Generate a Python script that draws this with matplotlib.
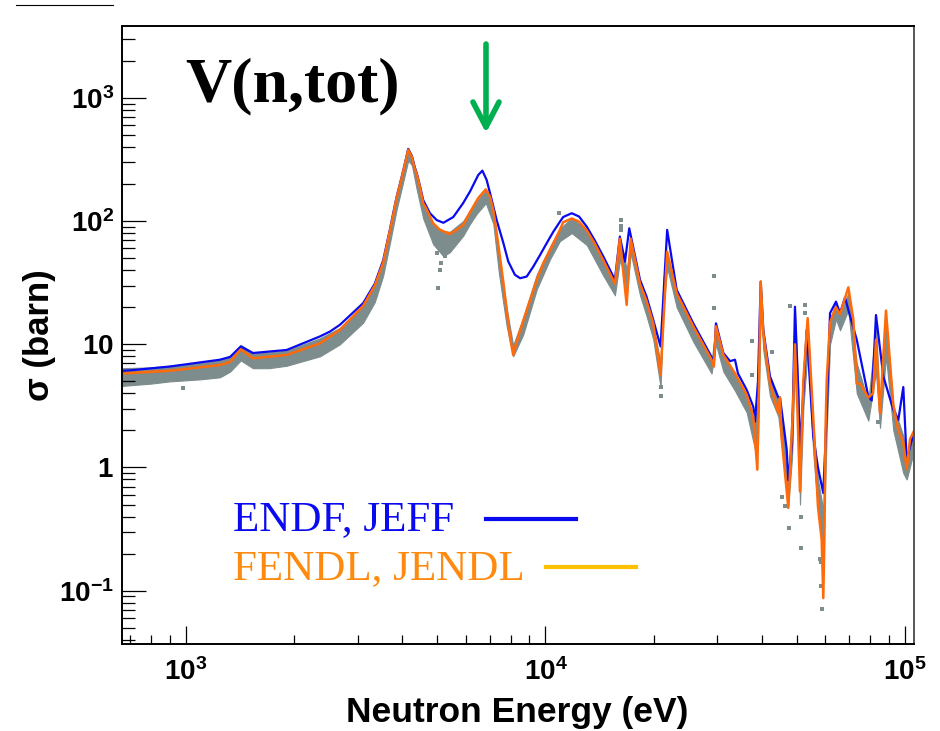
import matplotlib
matplotlib.use('Agg')
import matplotlib.pyplot as plt
from matplotlib.lines import Line2D
from matplotlib.ticker import FixedLocator, FixedFormatter, LogLocator, NullFormatter
import numpy as np

plt.rcParams['font.family'] = ['Liberation Sans', 'DejaVu Sans']
plt.rcParams['mathtext.fontset'] = 'custom'
plt.rcParams['mathtext.rm'] = 'Liberation Sans:bold'
plt.rcParams['mathtext.it'] = 'Liberation Sans:bold'
plt.rcParams['mathtext.bf'] = 'Liberation Sans:bold'
plt.rcParams['mathtext.default'] = 'rm'

# ENDF / JEFF evaluation (blue)
endf_E = [665, 700, 900, 1243, 1326, 1420, 1535, 1906, 2360, 2515, 2680, 3110, 3350, 3535,
          3690, 3770, 3855, 3990, 4070, 4150, 4250, 4320, 4385, 4480, 4570, 4770, 4982, 5200,
          5540, 5900, 6166, 6500, 6675, 6860, 7010, 7315, 7640, 7880, 8220, 8500, 8866, 9250,
          9654, 10070, 10513, 10970, 11200, 11830, 12400, 13030, 13700, 14490, 15600, 16100,
          16640, 17100, 18320, 19100, 19940, 20900, 21800, 23170, 25770, 28970, 29400, 29800,
          31250, 32600, 33660, 34310, 36280, 37840, 38270, 39000, 39690, 40350, 42120, 44420,
          44900, 45870, 46880, 47370, 48500, 49430, 50490, 51040, 52130, 53280, 55580, 57280,
          59260, 60570, 61870, 64280, 65960, 68110, 70310, 73430, 79060, 80800, 83050, 87030,
          92800, 95820, 98930, 101100, 106150]
endf_xs = [6.1, 6.15, 6.6, 7.5, 7.9, 9.6, 8.5, 9.0, 11.6, 12.7, 14.4, 21.6, 31, 48,
           85, 116, 158, 235, 300, 386, 335, 277, 245, 191, 148, 116, 102, 97,
           108, 140, 174, 237, 257, 216, 169, 102, 66, 47, 36.7, 34.4, 35.5, 42.8,
           53, 66, 82, 99, 108, 116, 109, 90, 70, 51.5, 33.4, 75,
           47, 87.5, 33.4, 24.4, 15.8, 9.6, 85, 27.7, 14.8, 7.9, 7.0, 14.8,
           8.5, 7.3, 7.5, 5.8, 4.27, 3.12, 2.36, 5, 32.3, 13.1, 5.5, 3.7,
           3.7, 2.3, 1.4, 0.79, 1.5, 20.2, 4.3, 1.4, 4.0, 13.1, 1.78, 1.0,
           0.62, 2.76, 17.9, 22.2, 17.9, 24, 17, 10.9, 3.77, 3.5, 17.3, 5.5,
           2.94, 2.43, 4.5, 1.15, 2.0]

# FENDL / JENDL evaluation (orange)
fendl_E = [665, 900, 1243, 1326, 1420, 1535, 1906, 2360, 2680, 3110, 3350, 3535, 3690, 3770,
           3855, 3990, 4070, 4150, 4250, 4320, 4385, 4480, 4570, 4670, 4870, 5090, 5420, 5660,
           5900, 6166, 6500, 6820, 7010, 7160, 7315, 7470, 7640, 7800, 7960, 8130, 8400, 8670,
           9060, 9460, 9860, 10290, 10970, 11200, 11830, 12400, 13030, 13700, 14490, 15600,
           16100, 16820, 17260, 18320, 19100, 19940, 20900, 21800, 23170, 25770, 28970, 29400,
           29800, 31250, 33660, 36280, 37840, 38840, 39300, 39690, 40350, 42120, 44420, 44900,
           45400, 47370, 48800, 49430, 50200, 51040, 52130, 53620, 55580, 57280, 58650, 59260,
           59700, 60100, 60570, 61870, 64280, 65960, 69570, 71850, 73430, 75000, 79060, 81500,
           83050, 85220, 88540, 92800, 95820, 98930, 101100, 103250, 106150]
fendl_xs = [5.8, 6.1, 6.8, 7.2, 9.1, 7.7, 8.2, 10.2, 13.1, 20.5, 30, 46, 83, 112,
            155, 230, 295, 380, 330, 272, 240, 185, 140, 125, 96, 85, 78.7, 85,
            93, 118, 154, 181, 158, 123, 80, 51.5, 31.4, 19, 11.6, 8.2, 11.6, 15.5,
            22.9, 33.4, 45.6, 58, 85, 98, 105, 99, 84, 66, 48, 31,
            72, 20.9, 72, 31, 22.5, 14.8, 5.65, 56.5, 26, 14, 7.5, 6.6,
            14, 8.2, 5.8, 3.9, 2.6, 0.96, 6, 32.3, 12.5, 4.8, 2.76, 3.7,
            1.7, 0.47, 3, 10, 3, 0.64, 5, 16.3, 2.5, 0.48, 0.26, 0.087,
            0.28, 2.0, 5.1, 15, 20, 17.5, 29, 15.8, 4.8, 4.8, 3.7, 4,
            10.9, 2.76, 18.8, 3.2, 2.0, 1.6, 0.97, 1.7, 2.0]

# measured data: dense band (lower / upper edge)
exp_E = [665, 800, 900, 1100, 1243, 1326, 1420, 1535, 1700, 1906, 2360, 2680, 3110, 3350,
         3535, 3690, 3855, 3990, 4150, 4250, 4385, 4570, 4870, 5200, 5420, 5900, 6166, 6440,
         6825, 7160, 7420, 7800, 8130, 8670, 9460, 10290, 10970, 11830, 13030, 14490, 15600,
         16100, 16500, 16820, 17260, 18320, 19100, 19940, 20900, 21300, 21800, 23170, 25770,
         28970, 29800, 31250, 33660, 36280, 38270, 39000, 39690, 40350, 42120, 44420, 45870,
         47370, 48500, 49430, 50490, 51040, 52130, 53620, 55580, 57280, 59260, 60570, 61870,
         64280, 65960, 69570, 73430, 79060, 83050, 85220, 88540, 92800, 98930, 101100, 106150]
exp_lo = [4.6, 4.8, 5.0, 5.2, 5.4, 6.0, 7.4, 6.4, 6.4, 6.7, 8.0, 10, 15, 22,
          36, 66, 125, 190, 310, 285, 180, 105, 65, 52, 56, 76, 95, 115,
          140, 95, 38, 14, 8.0, 12, 28, 49, 69, 80, 64, 36, 25,
          48, 40, 25, 55, 25, 17, 11, 4.5, 20, 42, 20, 10.5,
          5.8, 10, 6, 4.2, 2.8, 1.4, 1.5, 20, 9, 3.8, 2.6, 1.2,
          0.5, 1.2, 8, 2, 0.5, 3, 9, 1.3, 0.45, 0.2, 2, 10,
          16, 13, 19, 4, 2.4, 6, 2.1, 8, 2.0, 0.9, 0.8, 1.4]
exp_hi = [6.4, 6.5, 6.7, 7.1, 7.6, 8.0, 9.9, 8.6, 8.6, 8.9, 11.2, 13.6, 20.5, 30,
          46, 84, 158, 235, 390, 345, 240, 140, 93, 83, 82, 100, 122, 145,
          178, 125, 50, 19.5, 9.8, 16.5, 37, 62, 87, 106, 84, 47, 32,
          68, 55, 40, 72, 32, 22.5, 14.5, 7, 35, 55, 25.5, 13.5,
          7.3, 14, 7.8, 5.6, 3.8, 2.4, 3.5, 30, 12.5, 5.2, 3.6, 2.0,
          0.9, 3, 18, 4, 1.0, 6, 15, 2.2, 0.8, 0.45, 4, 16,
          22, 17, 26, 7, 3.4, 14, 3.0, 16, 3.2, 1.8, 1.1, 2.0]

# measured data: isolated points
pts_E = [983, 5000, 5035, 5060, 5090, 5120, 5150, 5250, 10920, 16190, 16190, 16190, 21000,
         21000, 29430, 29430, 37500, 37500, 42560, 45400, 46400, 47700, 47860, 51400, 51400,
         52700, 52700, 58000, 58300, 58300, 58500, 58650, 84000]
pts_xs = [4.4, 55, 28.5, 62, 40.4, 45.6, 58, 52, 117, 102, 92, 85, 4.5,
          3.8, 36, 19.8, 5.65, 10.6, 8.7, 0.58, 0.49, 0.32, 20.6, 0.40, 0.22,
          21, 18, 0.18, 0.34, 0.17, 0.11, 0.071, 2.36]

x_ticks = [1e3, 1e4, 1e5]
x_ticklabels = [r'$10^{3}$', r'$10^{4}$', r'$10^{5}$']
y_ticks = [0.1, 1, 10, 100, 1000]
y_ticklabels = [r'$10^{-1}$', r'$1$', r'$10$', r'$10^{2}$', r'$10^{3}$']

W, H = 940, 731
fig = plt.figure(figsize=(W / 100, H / 100), dpi=100)
ax = fig.add_axes([122.3 / W, 1 - 644 / H, (914.3 - 122.3) / W, (644 - 26) / H])

gray = '#7D8C8C'
blue = '#0A0AF0'
orange = '#FF6A0A'
ax.fill_between(exp_E, exp_lo, exp_hi, color=gray, lw=0.8, edgecolor=gray)
ax.plot(pts_E, pts_xs, 's', color=gray, ms=2.6, mew=0)
ax.plot(endf_E, endf_xs, color=blue, lw=1.6)
ax.plot(fendl_E, fendl_xs, color=orange, lw=1.8)

ax.set_xscale('log')
ax.set_yscale('log')
ax.set_xlim(665, 106150)
ax.set_ylim(0.0369, 3840)

ax.xaxis.set_major_locator(FixedLocator(x_ticks))
ax.xaxis.set_major_formatter(FixedFormatter(x_ticklabels))
ax.yaxis.set_major_locator(FixedLocator(y_ticks))
ax.yaxis.set_major_formatter(FixedFormatter(y_ticklabels))
for a in (ax.xaxis, ax.yaxis):
    a.set_minor_locator(LogLocator(base=10, subs=np.arange(2, 10), numticks=30))
    a.set_minor_formatter(NullFormatter())

ax.tick_params(which='both', direction='in', top=False, right=False, width=0.9,
               labelsize=20)
ax.tick_params(axis='y', which='major', length=17, pad=6)
ax.tick_params(axis='y', which='minor', length=9.5)
ax.tick_params(axis='x', which='major', length=13, pad=10)
ax.tick_params(axis='x', which='minor', length=6.5)
for s in ax.spines.values():
    s.set_linewidth(1.4)
ax.spines['right'].set_color('#555555')

# axis titles
fig.text(517.5 / W, 1 - 722 / H, 'Neutron Energy (eV)', ha='center', va='baseline',
         fontsize=25.5, fontweight='bold')
fig.text(39 / W, 1 - 335 / H, 'σ (barn)', rotation=90, ha='center', va='center',
         fontsize=25, fontweight='bold')

# reaction label
fig.text(185 / W, 1 - 101 / H, 'V(n,tot)', fontsize=46, fontweight='bold',
         family='Liberation Serif', va='baseline')

# legend drawn by hand
fig.text(233 / W, 1 - 530 / H, 'ENDF, JEFF', color=blue, fontsize=31,
         family='Liberation Serif', va='baseline')
fig.text(233 / W, 1 - 579 / H, 'FENDL, JENDL', color='#FF8A10', fontsize=31,
         family='Liberation Serif', va='baseline')
fig.add_artist(Line2D([486 / W, 576 / W], [1 - 519 / H] * 2, color=blue, lw=3))
fig.add_artist(Line2D([546 / W, 636 / W], [1 - 567 / H] * 2, color='#FFC000', lw=3))

# green arrow
ax.annotate('', xy=(486 / W, 1 - 133 / H), xytext=(486 / W, 1 - 44 / H),
            xycoords='figure fraction', textcoords='figure fraction',
            arrowprops=dict(arrowstyle='->,head_length=0.9,head_width=0.47',
                            color='#00B050', lw=4, mutation_scale=20,
                            shrinkA=0, shrinkB=0))

fig.add_artist(Line2D([16 / W, 113 / W], [1 - 5 / H] * 2, color='black', lw=0.8))

fig.savefig('out.png', dpi=100)
